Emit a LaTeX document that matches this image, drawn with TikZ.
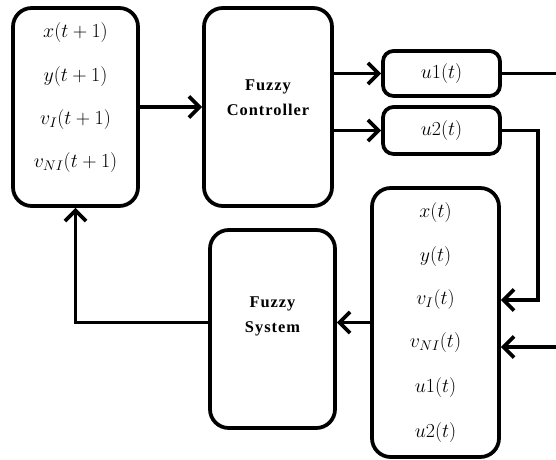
\RequirePackage{fix-cm}
\documentclass[tikz,border=0pt]{standalone}
\usepackage{fontspec}
\setmainfont{Liberation Serif}
\newfontfamily\lblfont[LetterSpace=6]{Liberation Serif}
\usetikzlibrary{arrows.meta}
\begin{document}
\begin{tikzpicture}[x=0.03cm,y=-0.03cm,
  box/.style={draw, line width=3.2pt, rounded corners=16pt, inner sep=0pt},
  smallbox/.style={draw, line width=3.2pt, rounded corners=9pt, inner sep=0pt},
  conn/.style={line width=3.2pt, -{Straight Barb[length=9pt,width=18pt]}},
  wire/.style={line width=3.2pt},
  mth/.style={font=\fontsize{17}{19}\selectfont, inner sep=1pt},
  lbl/.style={font=\lblfont\bfseries\fontsize{14}{21}\selectfont, align=center, inner sep=1pt}]
\useasboundingbox (0,0) rectangle (556,460);
% boxes
\node[box, minimum width=3.75cm, minimum height=5.94cm] (b1) at (75.5,107) {};
\node[box, minimum width=3.84cm, minimum height=5.94cm] (fc) at (268,107) {};
\node[smallbox, minimum width=3.51cm, minimum height=1.35cm, mth] (u1) at (441.5,73.5) {$u1(t)$};
\node[smallbox, minimum width=3.51cm, minimum height=1.41cm, mth] (u2) at (441.5,130.5) {$u2(t)$};
\node[box, minimum width=3.81cm, minimum height=8.07cm] (b3) at (435.5,322.5) {};
\node[box, minimum width=3.75cm, minimum height=5.94cm] (fs) at (272.5,329) {};
% labels
\node[lbl] (fcl) at (268,98) {Fuzzy\\Controller};
\node[lbl] (fsl) at (272.5,316.5) {Fuzzy\\System};
\node[mth] (a1) at (75.5,33) {$x(t+1)$};
\node[mth] (a2) at (75.5,77) {$y(t+1)$};
\node[mth] (a3) at (75.5,120) {$v_{I}(t+1)$};
\node[mth] (a4) at (75.5,163) {$v_{NI}(t+1)$};
\node[mth] (c1) at (435.5,213) {$x(t)$};
\node[mth] (c2) at (435.5,257) {$y(t)$};
\node[mth] (c3) at (435.5,300) {$v_{I}(t)$};
\node[mth] (c4) at (435.5,343) {$v_{NI}(t)$};
\node[mth] (c5) at (435.5,388) {$u1(t)$};
\node[mth] (c6) at (435.5,433) {$u2(t)$};
% coordinates
\coordinate (o1) at (556,73.5);
\coordinate (k2) at (538,300);
\coordinate (i2) at (556,347);
\coordinate (k1) at (75.5,322.5);
% connectors
\draw[conn] (b1.east) -- (fc.west);
\draw[conn] (fc.east |- u1) -- (u1.west);
\draw[conn] (fc.east |- u2) -- (u2.west);
\draw[wire] (u1.east) -- (o1);
\draw[conn] (u2.east) -| (k2) -- (b3.east |- k2);
\draw[conn] (i2) -- (b3.east |- i2);
\draw[conn] (b3.west) -- (fs.east |- b3.west);
\draw[conn] (fs.west |- k1) -- (k1) -- (b1.south);
\end{tikzpicture}
\end{document}
